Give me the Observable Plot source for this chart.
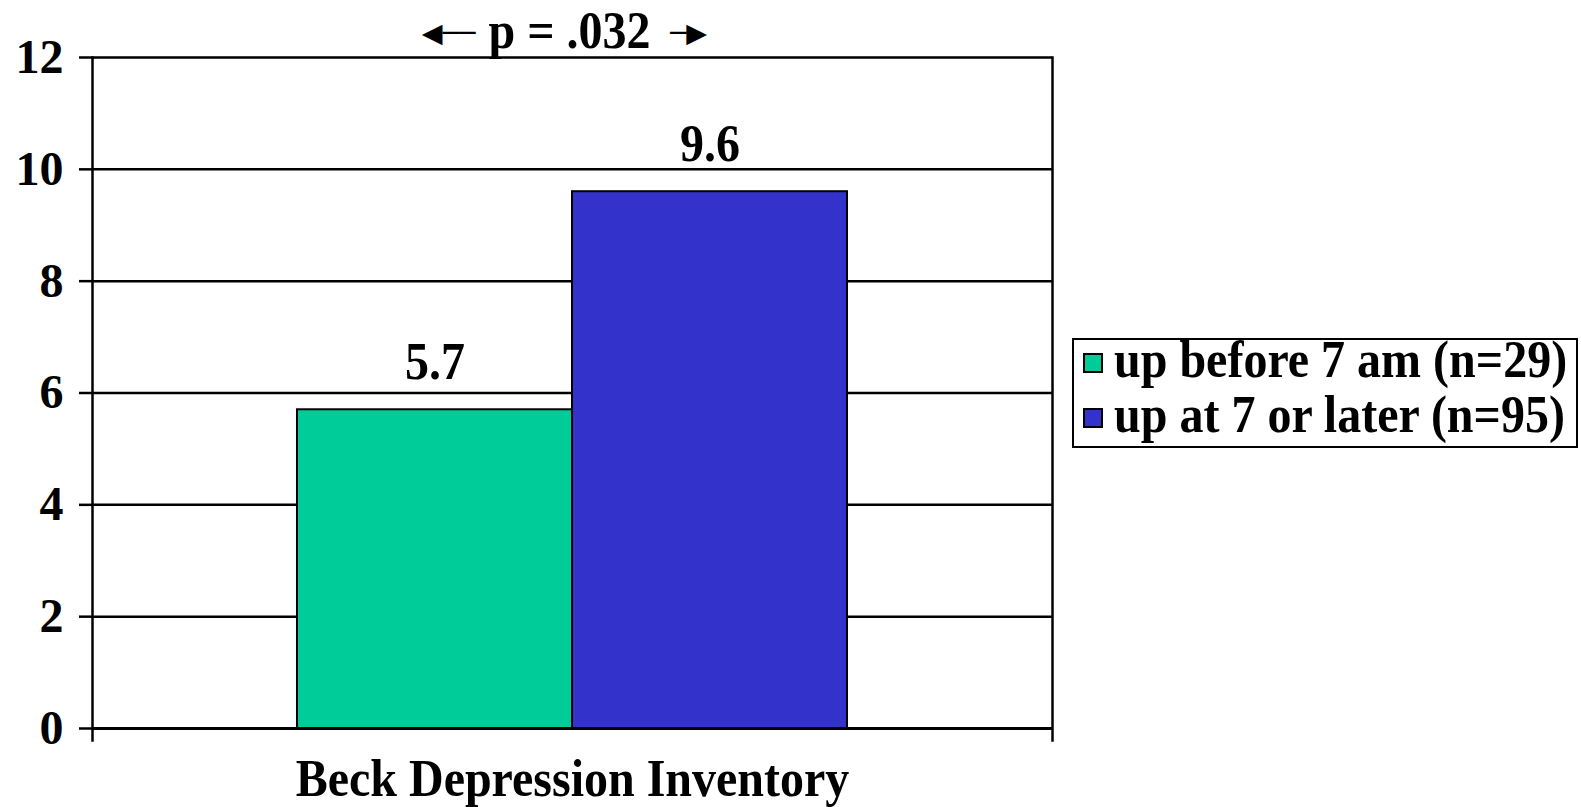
<!DOCTYPE html>
<html>
<head>
<meta charset="utf-8">
<script src="https://cdn.jsdelivr.net/npm/d3@7"></script>
<script src="https://cdn.jsdelivr.net/npm/@observablehq/plot@0.6"></script>
<style>
  html, body { margin: 0; padding: 0; background: #fff; }
  #wrap { position: relative; width: 1581px; height: 807px; overflow: hidden; }
  #legend {
    position: absolute; left: 1072px; top: 338px; width: 502px; height: 106px;
    border: 2px solid #000; box-sizing: content-box;
    font-family: "Liberation Serif", "Times New Roman", serif; font-weight: bold;
    font-size: 48px; color: #000;
  }
  .row { position: absolute; left: 0; height: 55px; white-space: nowrap; }
  .sw { position: absolute; left: 9px; width: 16px; height: 16px; border: 2px solid #000; }
  .lab { position: absolute; left: 40px; line-height: 1; transform: scaleY(1.1); transform-origin: left bottom; }
</style>
</head>
<body>
<div id="wrap"></div>
<script>
const measure = "Beck Depression Inventory";
const series = ["up before 7 am (n=29)", "up at 7 or later (n=95)"];
const values = [5.7, 9.6];
const colors = ["#00CC99", "#3333CC"];
const yTicks = [0, 2, 4, 6, 8, 10, 12];
const pLabel = "p = .032";
const arrowLeft = "\u25C0\u2500\u2500";
const arrowRight = "\u2500\u25B6";

const data = series.map((s, i) => ({series: s, value: values[i]}));
const font = "'Liberation Serif', 'Times New Roman', serif";

const chart = Plot.plot({
  width: 1581,
  height: 807,
  marginLeft: 92,
  marginRight: 529,
  marginTop: 57,
  marginBottom: 79,
  style: {fontFamily: font, fontWeight: "bold", fontSize: "48px", color: "#000", background: "#fff", overflow: "visible"},
  x: {domain: series, paddingInner: 0, paddingOuter: 0.745, axis: null},
  y: {domain: [0, 12], ticks: yTicks, axis: null},
  color: {domain: series, range: colors},
  marks: [
    Plot.gridY(yTicks, {stroke: "#000", strokeOpacity: 1, strokeWidth: 2.5}),
    Plot.axisY(yTicks, {tickSize: 13, tickPadding: 16, tickFormat: d => d, stroke: "#000", strokeWidth: 2.5, fontSize: 48, fontWeight: "bold", label: null}),
    Plot.barY(data, {x: "series", y: "value", fill: "series", stroke: "#000", strokeWidth: 2}),
    Plot.text(data, {x: "series", y: "value", text: d => d.value.toFixed(1), lineAnchor: "bottom", dy: -31, fontSize: 48, fontWeight: "bold", fill: "#000"}),
    Plot.ruleY([0], {stroke: "#000", strokeWidth: 3}),
    Plot.frame({anchor: "left", stroke: "#000", strokeWidth: 2.5, insetBottom: -12}),
    Plot.frame({anchor: "right", stroke: "#000", strokeWidth: 2.5, insetBottom: -12}),
    Plot.text([pLabel], {frameAnchor: "top", text: d => d, lineAnchor: "bottom", dy: -10, dx: -3, fontSize: 48, fontWeight: "bold", fill: "#000"}),
    Plot.text([arrowLeft], {frameAnchor: "top", text: d => d, lineAnchor: "middle", dy: -24, dx: -124, fontSize: 27, fontFamily: "'DejaVu Sans', sans-serif", fontWeight: "normal", fill: "#000"}),
    Plot.text([arrowRight], {frameAnchor: "top", text: d => d, lineAnchor: "middle", dy: -24, dx: 116, fontSize: 27, fontFamily: "'DejaVu Sans', sans-serif", fontWeight: "normal", fill: "#000"}),
    Plot.text([measure], {frameAnchor: "bottom", text: d => d, lineAnchor: "bottom", dy: 67, fontSize: 48, fontWeight: "bold", fill: "#000"})
  ]
});
// slightly condensed look of the original typeface: stretch glyphs vertically about their anchor
d3.select(chart).selectAll("text").each(function() {
  const t = this.getAttribute("transform");
  if (t && !this.hasAttribute("y") && this.getAttribute("font-family") == null) this.setAttribute("transform", t + " scale(1,1.1)");
});
const wrap = document.getElementById("wrap");
wrap.appendChild(chart);

const legend = document.createElement("div");
legend.id = "legend";
series.forEach((s, i) => {
  const row = document.createElement("div");
  row.className = "row";
  row.style.top = (4 + i * 55) + "px";
  const sw = document.createElement("div");
  sw.className = "sw";
  sw.style.background = colors[i];
  sw.style.top = "9px";
  const lab = document.createElement("div");
  lab.className = "lab";
  lab.style.top = "-6px";
  lab.textContent = s;
  row.appendChild(sw);
  row.appendChild(lab);
  legend.appendChild(row);
});
wrap.appendChild(legend);
</script>
</body>
</html>
